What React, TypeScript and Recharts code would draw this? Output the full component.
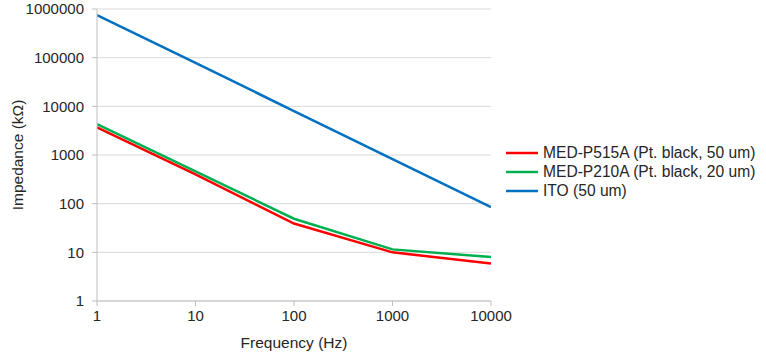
import React from "react";
import {
  LineChart,
  Line,
  XAxis,
  YAxis,
  CartesianGrid,
  Legend,
} from "recharts";

const frequency = [1, 10, 100, 1000, 10000];
const med515a = [3700, 400, 39, 10, 5.9];
const med210a = [4300, 460, 49, 11.5, 8];
const ito = [750000, 78000, 8000, 820, 85];

const xTicks = [1, 10, 100, 1000, 10000];
const yTicks = [1, 10, 100, 1000, 10000, 100000, 1000000];

const series = [
  { key: "med515a", name: "MED-P515A (Pt. black, 50 um)", color: "#FF0000" },
  { key: "med210a", name: "MED-P210A (Pt. black, 20 um)", color: "#00B050" },
  { key: "ito", name: "ITO (50 um)", color: "#0070C0" },
];

const chartData = frequency.map((f, i) => ({
  f,
  med515a: med515a[i],
  med210a: med210a[i],
  ito: ito[i],
}));

const font = "'Liberation Sans', Arial, sans-serif";
const textColor = "#262626";
const axisColor = "#BFBFBF";

function LegendBox() {
  return (
    <div style={{ fontFamily: font, fontSize: 15.6, color: textColor }}>
      {series.map((s) => (
        <div key={s.key} style={{ display: "flex", alignItems: "center", height: 19 }}>
          <svg width={34} height={6} style={{ marginRight: 3 }}>
            <line x1={0} y1={3} x2={32} y2={3} stroke={s.color} strokeWidth={2.5} />
          </svg>
          <span>{s.name}</span>
        </div>
      ))}
    </div>
  );
}

export default function App() {
  return (
    <div style={{ position: "absolute", left: 0, top: 0, width: 766, height: 363, background: "#fff" }}>
      <LineChart
        width={766}
        height={363}
        data={chartData}
        margin={{ top: 9, right: 275, left: 0, bottom: 0 }}
      >
        <CartesianGrid vertical={false} stroke="#D9D9D9" />
        <XAxis
          dataKey="f"
          type="number"
          scale="log"
          domain={[1, 10000]}
          ticks={xTicks}
          allowDataOverflow
          height={62}
          stroke={axisColor}
          tickSize={5}
          tickMargin={4}
          tick={{ fontSize: 15, fill: textColor, fontFamily: font }}
          label={{
            value: "Frequency (Hz)",
            position: "insideBottom",
            offset: 15,
            style: { fontSize: 15.5, fill: textColor, fontFamily: font },
          }}
        />
        <YAxis
          type="number"
          scale="log"
          domain={[1, 1000000]}
          ticks={yTicks}
          allowDataOverflow
          width={97}
          stroke={axisColor}
          tickSize={5}
          tickMargin={8}
          tick={{ fontSize: 15, fill: textColor, fontFamily: font }}
          label={{
            value: "Impedance (kΩ)",
            angle: -90,
            position: "insideLeft",
            offset: 17,
            style: { fontSize: 15.5, fill: textColor, fontFamily: font, textAnchor: "middle" },
          }}
        />
        <Legend
          layout="vertical"
          align="center"
          verticalAlign="middle"
          content={() => <LegendBox />}
          wrapperStyle={{ position: "absolute", left: 506, top: 143, width: 260 }}
        />
        {series.map((s) => (
          <Line
            key={s.key}
            dataKey={s.key}
            name={s.name}
            stroke={s.color}
            strokeWidth={2.5}
            dot={false}
            activeDot={false}
            isAnimationActive={false}
          />
        ))}
      </LineChart>
    </div>
  );
}
